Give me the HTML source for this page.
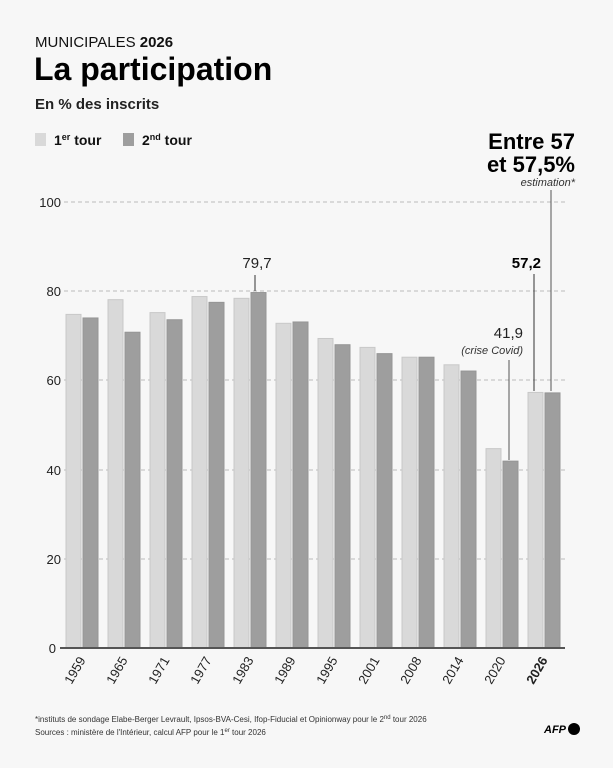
<!DOCTYPE html>
<html><head><meta charset="utf-8"><style>
html,body{margin:0;padding:0;background:#f7f7f7;}
svg{display:block;font-family:"Liberation Sans",sans-serif;}
</style></head><body>
<svg width="613" height="768" viewBox="0 0 613 768" xmlns="http://www.w3.org/2000/svg">
<rect width="613" height="768" fill="#f7f7f7"/>
<text x="35" y="47" font-size="15" fill="#111">MUNICIPALES <tspan font-weight="bold">2026</tspan></text>
<text x="34" y="80" font-size="32" font-weight="bold" fill="#000">La participation</text>
<text x="35" y="109" font-size="15" font-weight="bold" fill="#222">En % des inscrits</text>
<rect x="35" y="133" width="11" height="13" fill="#d9d9d9"/>
<text x="54" y="145" font-size="14" font-weight="bold" fill="#111">1<tspan font-size="9" dy="-5">er</tspan><tspan dy="5"> tour</tspan></text>
<rect x="123" y="133" width="11" height="13" fill="#9e9e9e"/>
<text x="142" y="145" font-size="14" font-weight="bold" fill="#111">2<tspan font-size="9" dy="-5">nd</tspan><tspan dy="5"> tour</tspan></text>
<text x="575" y="149" font-size="22" font-weight="bold" text-anchor="end" fill="#000">Entre 57</text>
<text x="575" y="172" font-size="22" font-weight="bold" text-anchor="end" fill="#000">et 57,5%</text>
<text x="575" y="186" font-size="11" font-style="italic" text-anchor="end" fill="#333">estimation*</text>
<g stroke="#bbb" stroke-dasharray="4,3" stroke-width="1">
<line x1="64" y1="202" x2="565" y2="202"/><line x1="64" y1="291" x2="565" y2="291"/><line x1="64" y1="380" x2="565" y2="380"/><line x1="64" y1="470" x2="565" y2="470"/><line x1="64" y1="559" x2="565" y2="559"/>
</g>
<g font-size="13" fill="#222" text-anchor="end">
<text x="61" y="207">100</text><text x="61" y="296">80</text><text x="61" y="385">60</text><text x="61" y="475">40</text><text x="61" y="564">20</text><text x="56" y="653">0</text>
</g>
<g id="bars" stroke-width="1">
</g>
<line x1="60" y1="648" x2="565" y2="648" stroke="#555" stroke-width="2"/>
<line x1="255" y1="275" x2="255" y2="291" stroke="#333"/>
<text x="257" y="268" font-size="15" text-anchor="middle" fill="#222">79,7</text>
<line x1="509" y1="360" x2="509" y2="460" stroke="#555"/>
<text x="523" y="338" font-size="15" text-anchor="end" fill="#222">41,9</text>
<text x="523" y="354" font-size="11" font-style="italic" text-anchor="end" fill="#333">(crise Covid)</text>
<line x1="534" y1="274" x2="534" y2="391" stroke="#333"/>
<text x="541" y="268" font-size="15" font-weight="bold" text-anchor="end" fill="#000">57,2</text>
<line x1="551" y1="190" x2="551" y2="391" stroke="#555"/>
<text x="35" y="722" font-size="8" fill="#333">*instituts de sondage Elabe-Berger Levrault, Ipsos-BVA-Cesi, Ifop-Fiducial et Opinionway pour le 2<tspan font-size="6" dy="-3">nd</tspan><tspan dy="3"> tour 2026</tspan></text>
<text x="35" y="735" font-size="8" fill="#333">Sources : ministère de l'Intérieur, calcul AFP pour le 1<tspan font-size="6" dy="-3">er</tspan><tspan dy="3"> tour 2026</tspan></text>
<text x="544" y="733" font-size="11" font-weight="bold" font-style="italic" fill="#000">AFP</text>
<circle cx="574" cy="729" r="6" fill="#000"/>
<g id="labels" font-size="13" fill="#222" text-anchor="end"></g>
</svg>
<script>
var v=[[1959,74.8,74.0],[1965,78.1,70.8],[1971,75.2,73.6],[1977,78.8,77.5],[1983,78.4,79.7],[1989,72.8,73.1],[1995,69.4,68.0],[2001,67.4,66.0],[2008,65.2,65.2],[2014,63.5,62.1],[2020,44.7,41.9],[2026,57.3,57.2]];
var ns="http://www.w3.org/2000/svg",b=document.getElementById("bars"),l=document.getElementById("labels");
v.forEach(function(d,i){var x=66+i*42;
[[d[1],"#d9d9d9","#c8c8c8",x],[d[2],"#9e9e9e","#959595",x+17]].forEach(function(s){var h=s[0]*4.46,r=document.createElementNS(ns,"rect");
r.setAttribute("x",s[3]);r.setAttribute("y",648-h);r.setAttribute("width",15);r.setAttribute("height",h);r.setAttribute("fill",s[1]);r.setAttribute("stroke",s[2]);b.appendChild(r);});
var t=document.createElementNS(ns,"text");t.setAttribute("transform","translate("+(x+20)+",660) rotate(-60)");t.textContent=d[0];if(d[0]==2026)t.setAttribute("font-weight","bold");l.appendChild(t);});
</script>
</body></html>
